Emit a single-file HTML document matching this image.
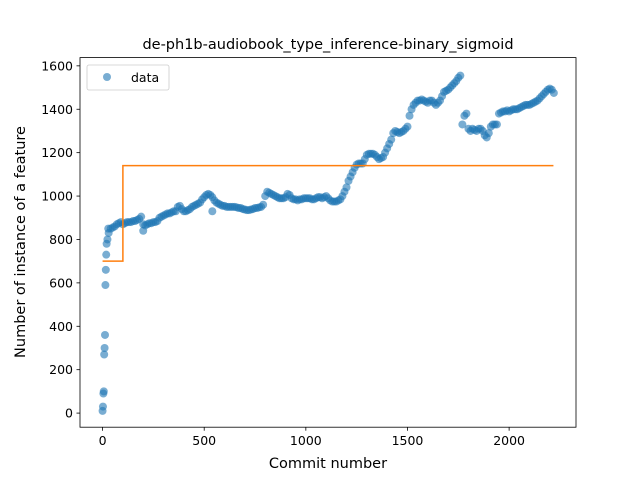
<!DOCTYPE html>
<html><head><meta charset="utf-8"><style>
body{margin:0;background:#fff;font-family:"DejaVu Sans","Liberation Sans",sans-serif}
svg{font-family:"DejaVu Sans","Liberation Sans",sans-serif}
</style></head><body>
<svg id="c" width="640" height="480" viewBox="0 0 640 480" xmlns="http://www.w3.org/2000/svg" style="position:absolute;left:0;top:0">
<rect width="640" height="480" fill="#fff"/>
<g id="marks"></g>
<g id="axes"></g>
</svg>
<script>
const commitX=[0,2,4,6,8,10,12,14,16,18,20,24,28,30,
40,50,60,70,80,90,100,110,120,130,140,150,160,170,180,190,200,200,210,220,230,240,250,260,270,280,290,300,310,320,330,340,350,360,370,380,390,400,410,420,430,440,450,460,470,480,490,500,510,520,530,540,540,550,560,570,580,590,600,610,620,630,640,650,660,670,680,690,700,710,720,730,740,750,760,770,780,790,800,810,820,830,840,850,860,870,880,890,900,910,920,930,940,950,960,970,980,990,1000,1010,1020,1030,1040,1050,1060,1070,1080,1090,1100,1110,1120,1130,1140,1150,1160,1170,1180,1190,1200,1210,1220,1230,1240,1250,1260,1270,1280,1290,1300,1310,1320,1330,1340,1350,1360,1370,1380,1390,1400,1410,1420,1430,1440,1450,1460,1470,1480,1490,1500,1510,1520,1530,1540,1550,1560,1570,1580,1590,1600,1610,1620,1630,1640,1650,1660,1670,1680,1690,1700,1710,1720,1730,1740,1750,1760,1770,1780,1790,1800,1810,1820,1830,1840,1850,1860,1870,1880,1890,1900,1910,1920,1930,1940,1950,1960,1970,1980,1990,2000,2010,2020,2030,2040,2050,2060,2070,2080,2090,2100,2110,2120,2130,2140,2150,2160,2170,2180,2190,2200,2210,2220];
const featureCount=[10,30,90,100,270,300,360,590,660,730,780,800,850,830,
850,855,860,870,875,880,870,875,880,880,880,885,885,890,895,905,870,840,865,870,875,875,880,880,885,900,905,910,915,920,920,925,930,930,950,955,940,930,930,935,940,950,955,960,965,970,985,995,1005,1010,1005,995,930,980,970,965,960,955,955,950,950,950,950,950,948,945,945,940,938,935,935,938,940,945,945,948,950,960,1000,1020,1015,1010,1005,1000,995,990,990,990,995,1010,1005,990,985,985,980,985,985,990,990,990,990,985,985,990,995,995,990,995,1000,990,980,975,975,975,980,985,1000,1020,1040,1070,1090,1110,1130,1145,1150,1150,1150,1170,1190,1195,1195,1195,1190,1180,1170,1175,1180,1200,1220,1240,1260,1290,1300,1295,1290,1295,1300,1310,1320,1370,1400,1420,1430,1440,1440,1445,1440,1435,1430,1440,1440,1430,1420,1430,1440,1460,1480,1485,1490,1500,1510,1520,1530,1545,1555,1330,1370,1380,1310,1300,1310,1305,1300,1310,1310,1300,1280,1270,1290,1320,1330,1330,1330,1380,1385,1390,1390,1395,1390,1395,1400,1400,1400,1405,1410,1415,1420,1420,1420,1425,1430,1435,1440,1450,1460,1470,1480,1490,1495,1490,1475];
const stepX=[0,100,100,2218];
const stepY=[700,700,1140,1140];
const xTicks=[0,500,1000,1500,2000];
const yTicks=[0,200,400,600,800,1000,1200,1400,1600];

const L=80,R=576,T=57.6,B=427.2,xmin=-111,xmax=2329,ymin=-65,ymax=1638;
const sx=v=>L+(v-xmin)/(xmax-xmin)*(R-L);
const sy=v=>B-(v-ymin)/(ymax-ymin)*(B-T);
const NS="http://www.w3.org/2000/svg";
const mk=(t,a,p)=>{const e=document.createElementNS(NS,t);for(const k in a)e.setAttribute(k,a[k]);p.appendChild(e);return e;};
const marks=document.getElementById('marks'),axes=document.getElementById('axes');
commitX.forEach((x,i)=>{
  const c=mk('circle',{cx:sx(x),cy:sy(featureCount[i]),r:4,fill:'#1f77b4','fill-opacity':0.6},marks);
  
  
});
const pl=mk('polyline',{points:stepX.map((x,i)=>sx(x)+','+sy(stepY[i])).join(' '),fill:'none',stroke:'#ff7f0e','stroke-width':1.5},marks);


const fr=mk('rect',{x:L,y:T,width:R-L,height:B-T,fill:'none',stroke:'#000','stroke-width':0.8},axes);


xTicks.forEach(v=>{
  mk('line',{x1:sx(v),x2:sx(v),y1:B,y2:B+3.5,stroke:'#000','stroke-width':0.8},axes);
  const t=mk('text',{x:sx(v),y:B+18,'text-anchor':'middle','font-size':12.5},axes);t.textContent=v;
  
  
});
yTicks.forEach(v=>{
  mk('line',{x1:L,x2:L-3.5,y1:sy(v),y2:sy(v),stroke:'#000','stroke-width':0.8},axes);
  const t=mk('text',{x:L-7,y:sy(v)+4.5,'text-anchor':'end','font-size':12.5},axes);t.textContent=v;
  
  
});
</script>
<svg width="640" height="480" style="position:absolute;left:0;top:0" xmlns="http://www.w3.org/2000/svg">
<text x="328" y="49" text-anchor="middle" font-size="14.5">de-ph1b-audiobook_type_inference-binary_sigmoid</text>
<text x="328" y="468" text-anchor="middle" font-size="14.5">Commit number</text>
<text transform="translate(25,242) rotate(-90)" text-anchor="middle" font-size="14.5">Number of instance of a feature</text>
<g>
<rect x="87" y="65" width="82" height="25" rx="2" fill="#fff" fill-opacity="0.8" stroke="#ccc" stroke-width="0.8"/>
<circle cx="107" cy="77" r="4" fill="#1f77b4" fill-opacity="0.6"/>
<text x="131" y="82" font-size="12.5">data</text>
</g>
</svg>
</body></html>
